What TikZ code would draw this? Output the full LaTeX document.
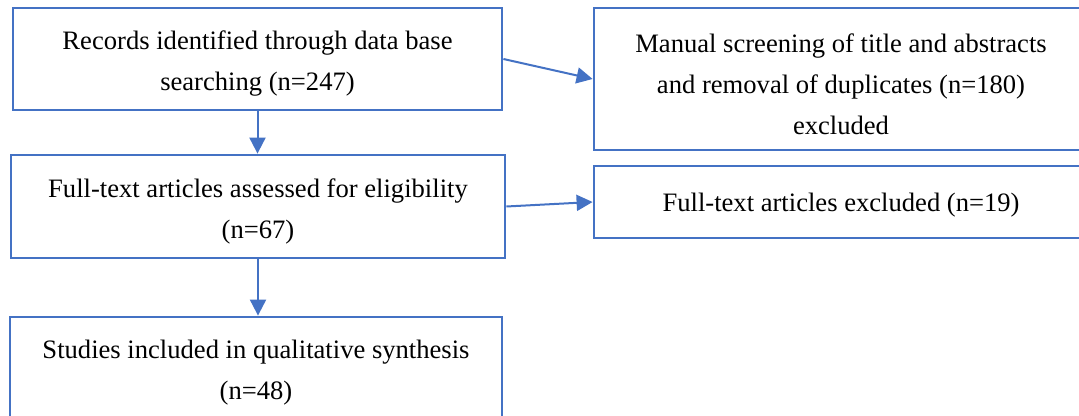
\documentclass[tikz,border=0pt]{standalone}
\usepackage{fontspec}
\setmainfont{Liberation Serif}
\usetikzlibrary{arrows.meta}
\definecolor{boxblue}{HTML}{4472C4}
\begin{document}
\begin{tikzpicture}[x=0.5pt,y=-0.5pt,
  box/.style={draw=boxblue, line width=1.4pt, inner sep=0pt},
  txt/.style={align=center, inner sep=0pt, font=\fontsize{13.3}{20.5}\selectfont},
  conn/.style={draw=boxblue, line width=1pt, -{Triangle[length=8pt,width=8pt]}}]
\clip (0,0) rectangle (1079,416);
\node[box, minimum width=244.5pt, minimum height=51pt] (b1) at (257.5,59) {};
\node[box, minimum width=247pt, minimum height=71pt] (b2) at (841,79) {};
\node[box, minimum width=247pt, minimum height=51.5pt] (b3) at (258,206.5) {};
\node[box, minimum width=247pt, minimum height=36pt] (b4) at (841,202) {};
\node[box, minimum width=246pt, minimum height=51pt] (b5) at (256,368) {};
\node[txt] (t1) at ([yshift=-2.3pt]b1.center)
  {Records identified through data base\\searching (n=247)};
\node[txt] (t2) at ([yshift=-2.5pt]b2.center)
  {Manual screening of title and abstracts\\and removal of duplicates (n=180)\\excluded};
\node[txt] (t3) at ([yshift=-2.5pt]b3.center)
  {Full-text articles assessed for eligibility\\(n=67)};
\node[txt] (t4) at ([yshift=-1.5pt]b4.center)
  {Full-text articles excluded (n=19)};
\node[txt] (t5) at ([yshift=-2.5pt]b5.center)
  {Studies included in qualitative synthesis\\(n=48)};
\draw[conn] (b1.east) -- (b2.west);
\draw[conn] (b1.south) -- (b1.south |- b3.north);
\draw[conn] (b3.east) -- (b4.west);
\draw[conn] (b3.south) -- (b3.south |- b5.north);
\end{tikzpicture}
\end{document}
